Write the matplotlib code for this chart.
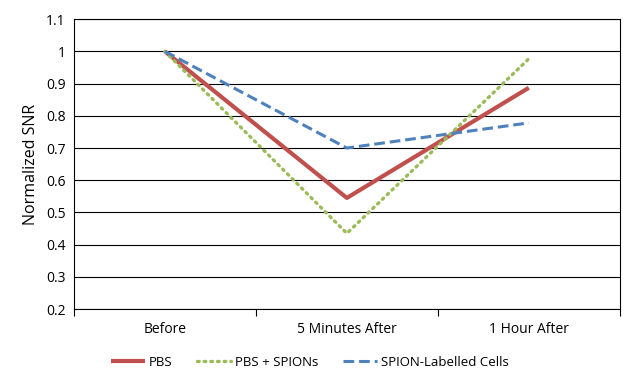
import matplotlib
matplotlib.use('Agg')
from matplotlib import pyplot as plt
from matplotlib.ticker import FuncFormatter

plt.rcParams['font.family'] = ['Open Sans', 'DejaVu Sans']

categories = ['Before', '5 Minutes After', '1 Hour After']
pbs = [1.0, 0.545, 0.887]
pbs_spions = [1.0, 0.435, 0.977]
labelled_cells = [1.0, 0.70, 0.778]

fig = plt.figure(figsize=(6.37, 3.83), dpi=100)
ax = fig.add_axes([0.116, 0.193, 0.857, 0.757])

x = range(len(categories))
ax.plot(x, pbs, color='#C0504D', linewidth=3.0, label='PBS',
        solid_capstyle='butt', zorder=3)
ax.plot(x, pbs_spions, color='#9BBB59', linewidth=2.4, linestyle=(0, (0.5, 1.5)),
        dash_capstyle='round', label='PBS + SPIONs', zorder=3)
ax.plot(x, labelled_cells, color='#4F81BD', linewidth=2.2, linestyle=(0, (3.5, 1.6)),
        label='SPION-Labelled Cells', zorder=3)

ax.set_xlim(-0.5, 2.5)
ax.set_ylim(0.2, 1.1)
ax.set_yticks([0.2 + 0.1 * i for i in range(10)])
ax.yaxis.set_major_formatter(FuncFormatter(lambda v, p: f'{v:g}' if abs(v - 1) > 1e-9 else '1'))
ax.grid(axis='y', color='black', linewidth=0.8)
ax.set_axisbelow(True)

ax.set_xticks(list(x))
ax.set_xticklabels(categories)
ax.set_xticks([-0.5, 0.5, 1.5, 2.5], minor=True)
ax.tick_params(axis='x', which='major', length=0, pad=9, labelsize=10)
ax.tick_params(axis='x', which='minor', length=5, width=0.8, direction='out')
ax.tick_params(axis='y', length=0, pad=6, labelsize=10)

for s in ax.spines.values():
    s.set_color('black')
    s.set_linewidth(0.8)

ax.set_ylabel('Normalized SNR', fontsize=11.5, labelpad=5)

ax.legend(loc='center', bbox_to_anchor=(0.432, -0.183), ncol=3, frameon=False,
          fontsize=9.5, handlelength=2.6, handletextpad=0.25, columnspacing=1.9)

fig.savefig('out.png', dpi=100)
